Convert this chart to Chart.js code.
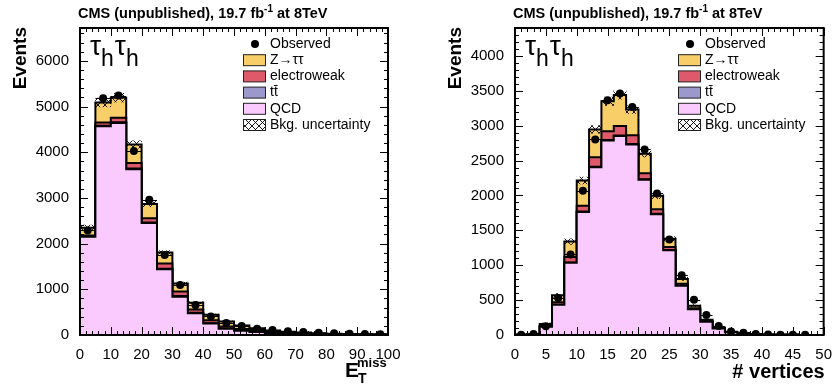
<!DOCTYPE html>
<html>
<head>
<meta charset="utf-8">
<script src="https://cdn.jsdelivr.net/npm/chart.js@4.4.0/dist/chart.umd.min.js"></script>
<style>
body{margin:0;background:#fff;width:835px;height:389px;overflow:hidden;position:relative}
canvas{position:absolute;top:0}
</style>
</head>
<body>
<canvas id="metChart" width="417" height="389" style="left:0"></canvas>
<canvas id="vtxChart" width="418" height="389" style="left:417px"></canvas>
<script>
// MET distribution, bins of 5 GeV
var metBins = [0,5,10,15,20,25,30,35,40,45,50,55,60,65,70,75,80,85,90,95];
var metQCD  = [2150,4570,4640,3630,2450,1440,840,475,250,135,95,65,45,32,25,18,14,10,8,6];
var metTT   = [5,10,15,15,12,12,12,10,8,7,6,5,4,3,3,2,2,1,1,1];
var metEWK  = [25,70,100,120,95,115,100,72,65,45,30,22,17,12,9,7,5,4,3,2];
var metZTT  = [170,440,440,405,310,240,175,150,120,110,75,55,35,22,15,10,7,5,4,3];
var metObs  = [2290,5180,5240,4030,2960,1750,1095,655,405,262,195,137,108,82,65,50,40,30,22,15];
var metUnc  = [55,95,95,80,60,40,30,22,16,13,10,8,6,5,4,3,3,2,2,2];

// number of vertices, bins of 2
var vtxBins = [0,2,4,6,8,10,12,14,16,18,20,22,24,26,28,30,32,34,36,38,40,42,44,46,48];
var vtxQCD  = [4,12,120,433,1034,1764,2404,2788,2851,2731,2226,1731,1216,706,370,190,92,40,20,9,5,3,2,1,0];
var vtxTT   = [0,0,1,2,5,5,8,8,8,6,5,5,4,3,2,1,1,0,0,0,0,0,0,0,0];
var vtxEWK  = [0,1,8,33,80,85,135,125,135,125,87,67,40,25,12,7,3,2,1,0,0,0,0,0,0];
var vtxZTT  = [1,3,30,100,220,360,400,430,445,370,279,192,120,70,36,20,10,5,3,2,1,1,0,0,0];
var vtxObs  = [5,15,125,529,1155,2067,2803,3365,3461,3269,2659,2029,1370,855,504,285,130,50,34,14,8,5,3,2,null];
var vtxUnc  = [2,4,12,25,40,50,55,60,60,55,48,40,30,22,15,10,6,4,3,2,1,1,1,1,0];

var metTicks = {min:0, max:100, step:10, minor:2};
var metYTicks = {min:0, max:6720, step:1000, minor:200};
var vtxTicks = {min:0, max:50, step:5, minor:1};
var vtxYTicks = {min:0, max:4400, step:500, minor:100};

var colZTT = "rgb(248,206,104)";
var colEWK = "rgb(222,90,106)";
var colTT  = "rgb(155,152,204)";
var colQCD = "rgb(250,202,255)";
var FONT = '"Liberation Sans", Arial, sans-serif';

Chart.defaults.font.family = FONT;
Chart.defaults.color = '#000';

function hatchPattern(){
  var c = document.createElement('canvas');
  c.width = 7; c.height = 7;
  var g = c.getContext('2d');
  g.strokeStyle = '#000';
  g.lineWidth = 0.9;
  g.beginPath();
  g.moveTo(0,0); g.lineTo(7,7);
  g.moveTo(7,0); g.lineTo(0,7);
  g.stroke();
  return g.createPattern(c, 'repeat');
}
var hatch = hatchPattern();

function addUp(a, b){
  return a.map(function(v, i){ return v + b[i]; });
}

// points on the bin edges, the last edge repeats the last bin
function stepPoints(bins, width, vals){
  var pts = bins.map(function(b, i){ return {x: b, y: vals[i]}; });
  pts.push({x: bins[bins.length-1] + width, y: vals[vals.length-1]});
  return pts;
}

function histSet(pts, color){
  return {
    type: 'line', data: pts, stepped: true, fill: 'origin',
    backgroundColor: color, borderColor: '#000', borderWidth: 2,
    pointRadius: 0, tension: 0
  };
}

function isMajor(v, step){
  var r = v / step;
  return Math.abs(r - Math.round(r)) < 1e-6;
}

// ticks every step between min and max (chart.js would stretch them to max)
function stepTicks(t){
  return function(scale){
    var out = [];
    for (var i = 0; t.min + i * t.step <= t.max; i++) out.push({value: t.min + i * t.step});
    scale.ticks = out;
  };
}

function drawSup(ctx, x, y, parts){
  parts.forEach(function(p){
    ctx.font = p[1];
    ctx.fillText(p[0], x, y + p[2]);
    x += ctx.measureText(p[0]).width;
  });
}

var rootStyle = {
  id: 'rootStyle',
  beforeDatasetDraw: function(chart, args, o){
    if (args.index !== 0) return;
    // horizontal bin-width bars of the observed points
    var xs = chart.scales.x, ys = chart.scales.y, ctx = chart.ctx;
    ctx.save();
    ctx.strokeStyle = '#000';
    ctx.lineWidth = 1;
    ctx.beginPath();
    chart.data.datasets[0].data.forEach(function(p){
      var py = Math.round(ys.getPixelForValue(p.y)) + 0.5;
      ctx.moveTo(xs.getPixelForValue(p.x - o.binWidth/2), py);
      ctx.lineTo(xs.getPixelForValue(p.x + o.binWidth/2), py);
    });
    ctx.stroke();
    ctx.restore();
  },
  afterDraw: function(chart, args, o){
    var ctx = chart.ctx, a = chart.chartArea;
    var xs = chart.scales.x, ys = chart.scales.y;
    ctx.save();
    ctx.strokeStyle = '#000';
    ctx.fillStyle = '#000';

    // inner ticks on all four sides
    ctx.lineWidth = 1;
    ctx.beginPath();
    var i, v, p, len;
    for (i = 0; ; i++) {
      v = o.xt.min + i * o.xt.minor;
      if (v > o.xt.max + 1e-9) break;
      p = Math.round(xs.getPixelForValue(v)) + 0.5;
      len = isMajor(v, o.xt.step) ? 8 : 4;
      ctx.moveTo(p, a.bottom); ctx.lineTo(p, a.bottom - len);
      ctx.moveTo(p, a.top); ctx.lineTo(p, a.top + len);
    }
    for (i = 0; ; i++) {
      v = o.yt.min + i * o.yt.minor;
      if (v > o.yt.max + 1e-9) break;
      p = Math.round(ys.getPixelForValue(v)) + 0.5;
      len = isMajor(v, o.yt.step) ? 8 : 4;
      ctx.moveTo(a.left, p); ctx.lineTo(a.left + len, p);
      ctx.moveTo(a.right, p); ctx.lineTo(a.right - len, p);
    }
    ctx.stroke();
    ctx.lineWidth = 2;
    ctx.strokeRect(a.left, a.top, a.right - a.left, a.bottom - a.top);

    // title
    ctx.textAlign = 'left';
    ctx.textBaseline = 'alphabetic';
    drawSup(ctx, a.left - 2, 17.5, [
      ['CMS (unpublished), 19.7 fb', 'bold 14.5px ' + FONT, 0],
      ['-1', 'bold 10px ' + FONT, -6],
      [' at 8TeV', 'bold 14.5px ' + FONT, 0]
    ]);

    // y title
    ctx.save();
    ctx.translate(a.left - 59, a.top - 1);
    ctx.rotate(-Math.PI/2);
    ctx.textAlign = 'right';
    ctx.textBaseline = 'middle';
    ctx.font = 'bold 19px ' + FONT;
    ctx.fillText('Events', 0, 0);
    ctx.restore();

    // x title
    if (o.xTitle === 'met') {
      ctx.font = 'bold 21px ' + FONT;
      ctx.fillText('E', a.right - 43, 377);
      ctx.font = 'bold 13px ' + FONT;
      ctx.fillText('miss', a.right - 31, 367);
      ctx.font = 'bold 14px ' + FONT;
      ctx.fillText('T', a.right - 30, 383);
    } else {
      ctx.textAlign = 'right';
      ctx.font = 'bold 20px ' + FONT;
      ctx.fillText(o.xTitle, a.right + 1, 378);
      ctx.textAlign = 'left';
    }

    // channel label
    var cx = a.left + 10;
    ['\u03c4', 'h', '\u03c4', 'h'].forEach(function(s, k){
      ctx.font = (k % 2 ? '23px ' : '28px ') + FONT;
      ctx.fillText(s, cx, a.top + (k % 2 ? 38 : 27));
      cx += ctx.measureText(s).width + (k % 2 ? 1 : 0);
    });

    // legend
    var lx = a.left + 163, ly = 44, dy = 16.2;
    var entries = [
      ['Observed', 'dot'],
      ['Z\u2192\u03c4\u03c4', colZTT],
      ['electroweak', colEWK],
      ['tt\u0304', colTT],
      ['QCD', colQCD],
      ['Bkg. uncertainty', 'hatch']
    ];
    ctx.font = '14px ' + FONT;
    ctx.textBaseline = 'middle';
    entries.forEach(function(e, k){
      var y = ly + k * dy;
      if (e[1] === 'dot') {
        ctx.beginPath();
        ctx.arc(lx + 12, y, 4, 0, 2 * Math.PI);
        ctx.fillStyle = '#000';
        ctx.fill();
      } else {
        ctx.fillStyle = e[1] === 'hatch' ? hatch : e[1];
        ctx.fillRect(lx, y - 5.5, 22, 11);
        ctx.lineWidth = 1;
        ctx.strokeStyle = '#222';
        ctx.strokeRect(lx + 0.5, y - 5.5, 22, 11);
      }
      ctx.fillStyle = '#000';
      ctx.fillText(e[0], lx + 27, y);
    });
    ctx.restore();
  }
};

function makeChart(id, h){
  var qcdTT = addUp(h.qcd, h.tt);
  var qcdTTEWK = addUp(qcdTT, h.ewk);
  var total = addUp(qcdTTEWK, h.ztt);
  var obs = [], unc = [];
  h.bins.forEach(function(b, i){
    var c = b + h.width / 2;
    if (h.obs[i] !== null) obs.push({x: c, y: h.obs[i]});
    unc.push({x: c, y: [total[i] - h.unc[i], total[i] + h.unc[i]]});
  });

  return new Chart(document.getElementById(id), {
    type: 'line',
    data: {
      datasets: [
        {type: 'line', data: obs, showLine: false, pointRadius: 4,
         pointBackgroundColor: '#000', pointBorderWidth: 0, pointStyle: 'circle'},
        {type: 'bar', data: unc, backgroundColor: hatch, borderWidth: 0,
         barPercentage: 1, categoryPercentage: 1},
        histSet(stepPoints(h.bins, h.width, h.qcd), colQCD),
        histSet(stepPoints(h.bins, h.width, qcdTT), colTT),
        histSet(stepPoints(h.bins, h.width, qcdTTEWK), colEWK),
        histSet(stepPoints(h.bins, h.width, total), colZTT)
      ]
    },
    options: {
      responsive: false,
      animation: false,
      devicePixelRatio: 1,
      layout: {padding: {left: 0, top: 28, right: h.padRight, bottom: 0}},
      plugins: {
        legend: {display: false},
        tooltip: {enabled: false},
        rootStyle: {binWidth: h.width, xt: h.xt, yt: h.yt, xTitle: h.xTitle}
      },
      scales: {
        x: {
          type: 'linear', min: h.xt.min, max: h.xt.max, offset: false,
          grid: {display: false}, border: {display: false},
          ticks: {autoSkip: false, maxRotation: 0,
                  padding: 3, font: {size: 15}, color: '#000'},
          afterBuildTicks: stepTicks(h.xt),
          afterFit: function(s){ s.height = 54; }
        },
        y: {
          min: h.yt.min, max: h.yt.max,
          grid: {display: false}, border: {display: false},
          ticks: {autoSkip: false, padding: 3, font: {size: 15}, color: '#000',
                  callback: function(v){ return String(v); }},
          afterBuildTicks: stepTicks(h.yt),
          afterFit: function(s){ s.width = h.padLeft; }
        }
      }
    },
    plugins: [rootStyle]
  });
}

makeChart('metChart', {
  bins: metBins, width: 5, qcd: metQCD, tt: metTT, ewk: metEWK, ztt: metZTT,
  obs: metObs, unc: metUnc, xt: metTicks, yt: metYTicks,
  xTitle: 'met', padLeft: 80, padRight: 29
});
makeChart('vtxChart', {
  bins: vtxBins, width: 2, qcd: vtxQCD, tt: vtxTT, ewk: vtxEWK, ztt: vtxZTT,
  obs: vtxObs, unc: vtxUnc, xt: vtxTicks, yt: vtxYTicks,
  xTitle: '# vertices', padLeft: 98, padRight: 11
});
</script>
</body>
</html>
